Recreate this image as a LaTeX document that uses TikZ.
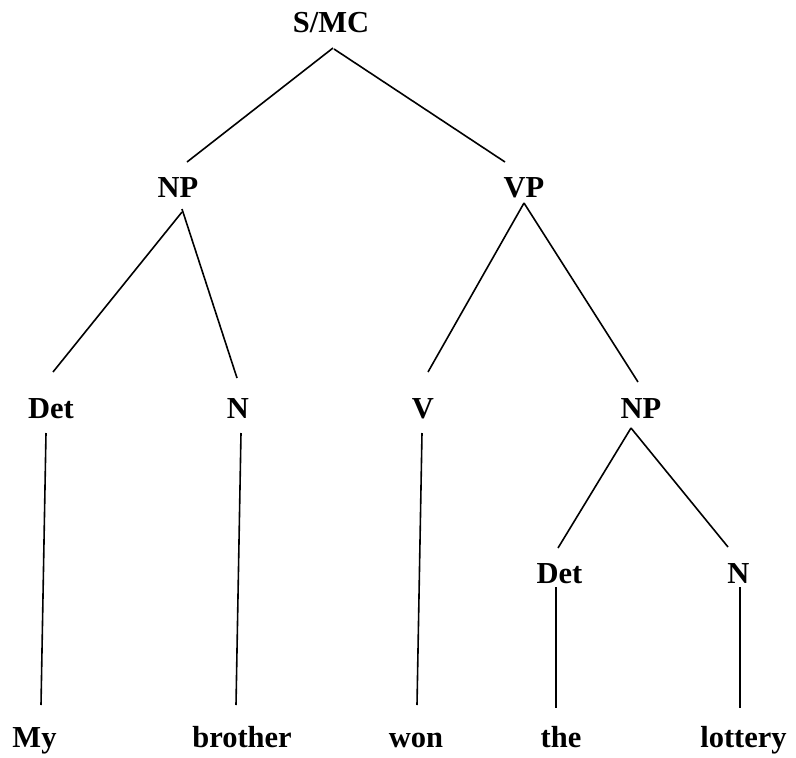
\documentclass[tikz,border=0pt]{standalone}
\usepackage{fontspec}
\setmainfont{Liberation Serif}
\usetikzlibrary{calc}
\begin{document}
\begin{tikzpicture}[x=1pt,y=-1pt,
  lbl/.style={anchor=base,inner sep=0pt,font=\fontsize{30.5}{36}\selectfont\bfseries},
  edge/.style={line width=1.6pt,black}]
\useasboundingbox (0,0) rectangle (796,758);
\node[lbl] (smc) at (331,32) {S/MC};
\node[lbl] (np1) at (178,197.5) {NP};
\node[lbl] (vp) at (524,197.5) {VP};
\node[lbl] (det1) at (51,418) {Det};
\node[lbl] (n1) at (238,418) {N};
\node[lbl] (v) at (423,418) {V};
\node[lbl] (np2) at (641,418) {NP};
\node[lbl] (det2) at (559.5,583) {Det};
\node[lbl] (n2) at (738.5,583) {N};
\node[lbl] (my) at (34.5,747) {My};
\node[lbl] (brother) at (242,747) {brother};
\node[lbl] (won) at (416,747) {won};
\node[lbl] (the) at (561,747) {the};
\node[lbl] (lottery) at (743.5,747) {lottery};
\draw[edge] ($(smc.base)+(2,16)$) -- ($(np1.base)+(9,-35.5)$);
\draw[edge] ($(smc.base)+(3,17)$) -- ($(vp.base)+(-19,-35.5)$);
\draw[edge] ($(np1.base)+(4,14.5)$) -- ($(det1.base)+(2,-46)$);
\draw[edge] ($(np1.base)+(4,11.5)$) -- ($(n1.base)+(-1,-40)$);
\draw[edge] ($(vp.base)+(0,5.5)$) -- ($(v.base)+(5,-46)$);
\draw[edge] ($(vp.base)+(0,5.5)$) -- ($(np2.base)+(-3,-36)$);
\draw[edge] ($(det1.base)+(-5,15)$) -- ($(my.base)+(6.5,-42)$);
\draw[edge] ($(n1.base)+(3,15)$) -- ($(brother.base)+(-6,-42)$);
\draw[edge] ($(v.base)+(-1,15)$) -- ($(won.base)+(1,-42)$);
\draw[edge] ($(np2.base)+(-10,10)$) -- ($(det2.base)+(-1.5,-35)$);
\draw[edge] ($(np2.base)+(-10,10)$) -- ($(n2.base)+(-10.5,-36)$);
\draw[edge] ($(det2.base)+(-3.5,4)$) -- ($(the.base)+(-5,-39)$);
\draw[edge] ($(n2.base)+(1.5,4)$) -- ($(lottery.base)+(-3.5,-39)$);
\end{tikzpicture}
\end{document}
